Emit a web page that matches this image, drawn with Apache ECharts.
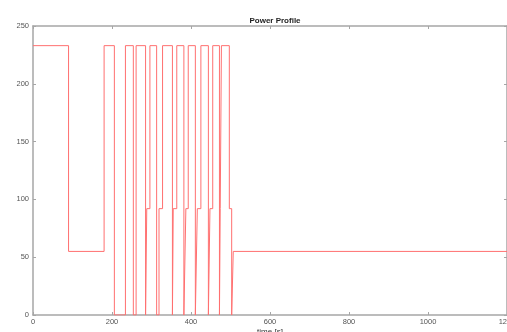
<!DOCTYPE html>
<html>
<head>
<meta charset="utf-8">
<script src="https://cdn.jsdelivr.net/npm/echarts@6/dist/echarts.min.js"></script>
<style>html,body{margin:0;padding:0;background:#fff;}#c{width:507px;height:332px;}</style>
</head>
<body>
<div id="c"></div>
<script>
// time [s] at which the power changes, and the new power level from then on
const changeTimes = [0, 90, 180, 206, 234, 254, 261, 285, 288, 296, 313, 319, 328, 353, 355, 364, 382, 387, 393, 411, 416, 425, 444, 448, 455, 472, 474, 477, 497, 503, 507, 1200];
const powerLevels = [233, 55, 233, 0, 233, 0, 233, 0, 92, 233, 0, 92, 233, 0, 92, 233, 0, 92, 233, 0, 92, 233, 0, 92, 233, 0, 92, 233, 92, 0, 55, 55];
const xTicks = [0, 200, 400, 600, 800, 1000, 1200];
const yTicks = [0, 50, 100, 150, 200, 250];

const data = changeTimes.map((t, i) => [t, powerLevels[i]]);
const axisCol = '#a6a6a6';
const font = 'Liberation Sans, Arial, sans-serif';
const plain = v => String(v);

const chart = echarts.init(document.getElementById('c'), null, {renderer: 'canvas'});
chart.setOption({
  animation: false,
  backgroundColor: '#fff',
  title: {
    text: 'Power Profile', left: 270, top: 12, textAlign: 'center',
    textStyle: {fontSize: 8, fontWeight: 'bold', color: '#222', fontFamily: font}
  },
  grid: {left: 33, right: 0, top: 26, bottom: 17, containLabel: false, outerBoundsMode: 'none'},
  xAxis: [{
    type: 'value', min: xTicks[0], max: xTicks[xTicks.length - 1], interval: 200,
    name: 'time [s]', nameLocation: 'middle', nameGap: 13, nameMoveOverlap: false,
    nameTextStyle: {fontSize: 8, color: '#333', fontFamily: font},
    axisLine: {show: true, onZero: false, lineStyle: {color: axisCol, width: 1.5}},
    axisTick: {show: true, inside: true, length: 3, lineStyle: {color: axisCol}},
    axisLabel: {fontSize: 7.5, color: '#555', margin: 3, fontFamily: font, showMaxLabel: true, formatter: plain},
    splitLine: {show: false}
  }, {
    type: 'value', position: 'top', min: xTicks[0], max: xTicks[xTicks.length - 1], interval: 200,
    axisLine: {show: true, onZero: false, lineStyle: {color: axisCol, width: 1.5}},
    axisTick: {show: true, inside: true, length: 3, lineStyle: {color: axisCol}},
    axisLabel: {show: false}, splitLine: {show: false}
  }],
  yAxis: [{
    type: 'value', min: yTicks[0], max: yTicks[yTicks.length - 1], interval: 50,
    axisLine: {show: true, onZero: false, lineStyle: {color: axisCol, width: 1.5}},
    axisTick: {show: true, inside: true, length: 3, lineStyle: {color: axisCol}},
    axisLabel: {fontSize: 7.5, color: '#555', margin: 4, fontFamily: font, formatter: plain},
    splitLine: {show: false}
  }, {
    type: 'value', position: 'right', min: yTicks[0], max: yTicks[yTicks.length - 1], interval: 50,
    axisLine: {show: true, onZero: false, lineStyle: {color: axisCol, width: 1.5}},
    axisTick: {show: true, inside: true, length: 3, lineStyle: {color: axisCol}},
    axisLabel: {show: false}, splitLine: {show: false}
  }],
  series: [{
    type: 'line', step: 'end', data: data, xAxisIndex: 0, yAxisIndex: 0,
    showSymbol: false, symbol: 'none',
    lineStyle: {color: '#ff7070', width: 1}
  }]
});
</script>
</body>
</html>
